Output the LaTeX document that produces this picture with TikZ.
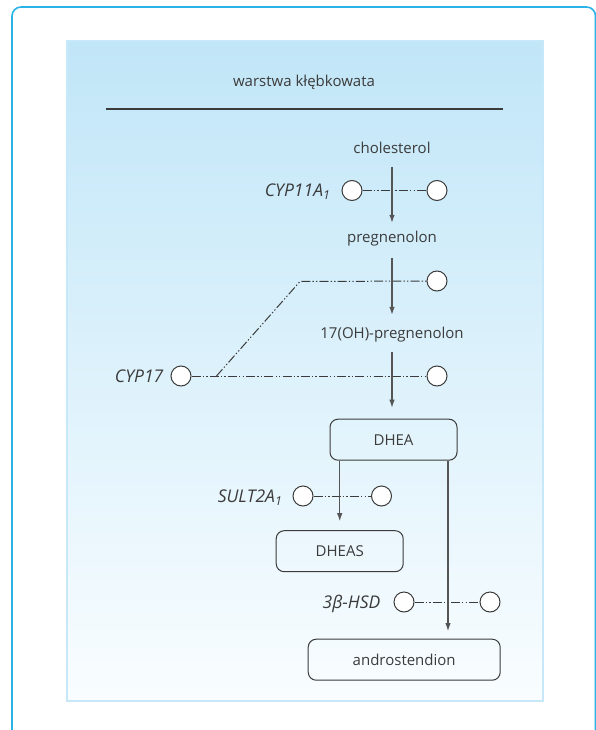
\documentclass[tikz,border=0pt]{standalone}
\usepackage{fontspec}
\setmainfont{Open Sans}
\usepackage{xcolor}
\usetikzlibrary{arrows.meta, positioning}

\definecolor{framecyan}{HTML}{29B3E6}
\definecolor{paneltop}{HTML}{C1E6F8}
\definecolor{panelbottom}{HTML}{F9FDFF}
\definecolor{panelrim}{HTML}{C6E8F8}
\definecolor{ink}{HTML}{3B3B3B}
\definecolor{wire}{HTML}{555555}

\begin{document}
\begin{tikzpicture}[x=1pt, y=-1pt, >={Latex[length=8pt,width=5.5pt]}, font=\fontsize{15}{18}\selectfont]
    % Styles
    \tikzstyle{metab} = [text=ink, inner sep=0pt, text height=12pt, text depth=4pt]
    \tikzstyle{enzlabel} = [text=ink, font=\fontsize{17.5}{20}\selectfont\itshape, inner sep=2pt, text height=12.5pt, text depth=0pt]
    \tikzstyle{enz} = [circle, draw=ink, fill=white, line width=1pt, minimum size=20pt, inner sep=0pt]
    \tikzstyle{molbox} = [rectangle, draw=ink, rounded corners=8pt, line width=1pt, text=ink, text height=11pt, text depth=0pt, minimum height=41pt]
    \tikzstyle{flow} = [->, draw=wire, line width=1.1pt]
    \tikzstyle{link} = [draw=ink, line width=1pt, dash pattern=on 9pt off 2.2pt on 1.3pt off 2.2pt on 1.3pt off 2.2pt]

    \useasboundingbox (0,0) rectangle (596,730);

    % Frame and panel
    \draw[framecyan, line width=1.6pt, rounded corners=9pt] (12,745) -- (12,7) -- (595.5,7) -- (595.5,745);
    \shade[top color=paneltop, bottom color=panelbottom] (67,41) rectangle (543,701);
    \draw[panelrim, line width=2pt] (67,41) rectangle (543,701);

    % Heading
    \node[metab, anchor=base] (title) at (304,87) {warstwa kłębkowata};
    \draw[ink, line width=1.3pt] (106,109) -- (503,109);

    % Nodes
    \node[metab, anchor=base] (chol) at (392,153.5) {cholesterol};
    \node[metab, anchor=base] (preg) at (392,242) {pregnenolon};
    \node[metab, anchor=base] (ohpreg) at (392,338.5) {17(OH)-pregnenolon};
    \node[molbox, minimum width=127pt] (dhea) at (393.5,439.7) {DHEA};
    \node[molbox, minimum width=127pt] (dheas) at (339.7,551.2) {DHEAS};
    \node[molbox, minimum width=192pt] (andro) at (404.2,659.7) {androstendion};

    % Enzymes
    \node[enz] (cypaL) at (352,190.5) {};
    \node[enz] (cypaR) at (437,190.5) {};
    \node[enzlabel, left=9pt of cypaL] (cypa) {CYP11A\textsubscript{1}};
    \node[enz] (cypbU) at (437,281) {};
    \node[enz] (cypbL) at (181,376) {};
    \node[enz] (cypbR) at (437,376) {};
    \node[enzlabel, left=5pt of cypbL] (cypb) {CYP17};
    \coordinate (fork) at (216.5,376);
    \coordinate (bend) at (300,281.5);
    \node[enz] (sultL) at (303,496) {};
    \node[enz] (sultR) at (381.5,496) {};
    \node[enzlabel, left=8pt of sultL] (sult) {SULT2A\textsubscript{1}};
    \node[enz] (hsdL) at (404,602) {};
    \node[enz] (hsdR) at (490,602) {};
    \node[enzlabel, left=11pt of hsdL] (hsd) {3β-HSD};

    % Connections
    % Enzyme links
    \draw[link] (cypaL) -- (cypaR);
    \draw[link] (cypbL) -- (cypbR);
    \draw[link] (fork) -- (bend) -- (cypbU);
    \draw[link] (sultL) -- (sultR);
    \draw[link] (hsdL) -- (hsdR);

    % Pathway
    \draw[flow, shorten <=9.2pt, shorten >=7pt] (chol) -- (preg);
    \draw[flow, shorten <=11.7pt, shorten >=11.5pt] (preg) -- (ohpreg);
    \draw[flow, shorten <=9.2pt, shorten >=11pt] (ohpreg) -- (ohpreg |- dhea.north);
    \draw[flow, shorten >=9pt] (dheas.north |- dhea.south) -- (dheas.north);
    \draw[flow, shorten >=7.6pt] ([xshift=-9.5pt]dhea.south east) -- ([xshift=-9.5pt]dhea.south east |- andro.north);

\end{tikzpicture}
\end{document}
